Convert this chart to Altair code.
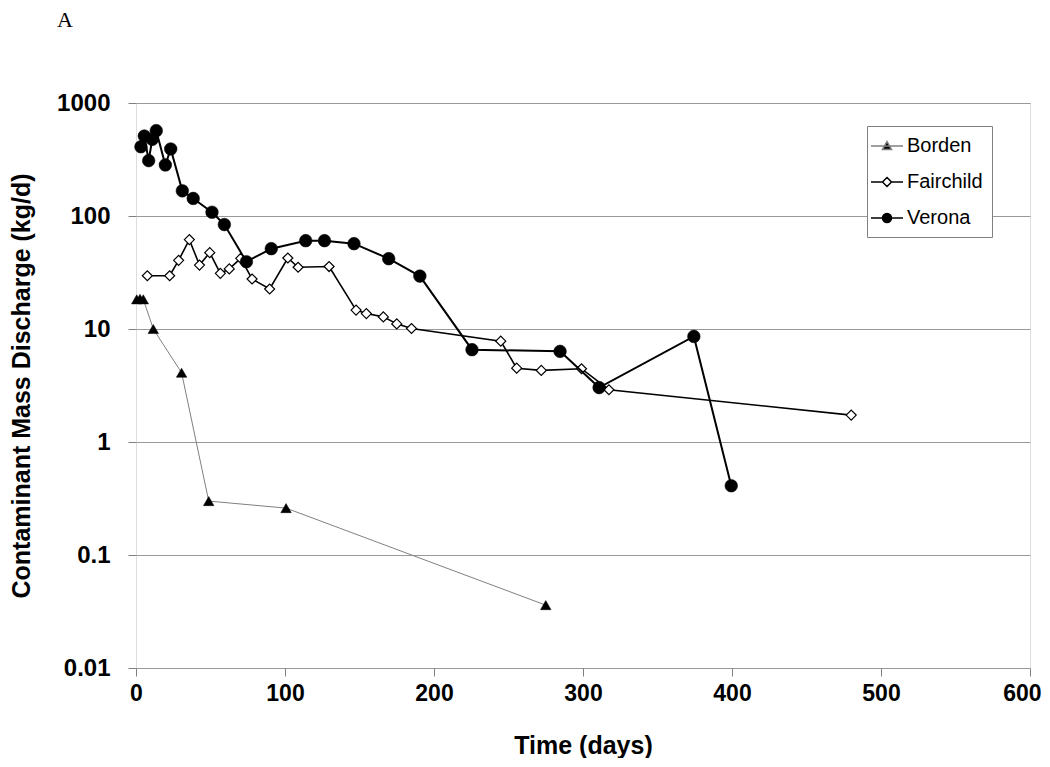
import altair as alt
import pandas as pd

series_names = ["Borden", "Fairchild", "Verona"]

borden_days = [0.5, 2.7, 4.9, 11.6, 30.6, 48.8, 100.7, 275.0]
borden_vals = [18.3, 18.5, 18.3, 10.0, 4.1, 0.30, 0.26, 0.036]

fairchild_days = [7.6, 22.6, 28.6, 35.8, 42.6, 49.5, 56.6, 62.6, 70.3, 77.9, 89.7,
                  101.9, 108.8, 129.6, 147.7, 154.6, 166.0, 175.0, 184.9, 244.8,
                  255.5, 272.0, 299.0, 317.4, 480.0]
fairchild_vals = [29.6, 29.6, 40.5, 61.8, 36.8, 47.4, 31.1, 34.0, 42.2, 27.7, 22.6,
                  42.5, 35.2, 35.7, 14.7, 13.7, 12.8, 11.1, 10.1, 7.8,
                  4.5, 4.3, 4.45, 2.9, 1.73]

verona_days = [3.3, 5.6, 8.5, 10.9, 13.6, 19.7, 23.3, 31.1, 38.4, 51.0, 59.3, 74.1,
               90.8, 113.9, 126.5, 146.3, 169.6, 190.5, 225.5, 284.6, 310.8, 374.4, 399.5]
verona_vals = [410, 510, 309, 477, 569, 283, 392, 167, 143, 108, 84, 39.4,
               51.4, 60.5, 60.5, 56.9, 41.9, 29.4, 6.56, 6.34, 3.03, 8.6, 0.41]

x_ticks = [0, 100, 200, 300, 400, 500, 600]
y_ticks = [0.01, 0.1, 1, 10, 100, 1000]

rows = []
for name, days, vals in [("Borden", borden_days, borden_vals),
                         ("Fairchild", fairchild_days, fairchild_vals),
                         ("Verona", verona_days, verona_vals)]:
    for d, v in zip(days, vals):
        rows.append({"series": name, "day": d, "value": v})
df = pd.DataFrame(rows)

FONT = "Liberation Sans"

x_enc = alt.X(
    "day:Q",
    scale=alt.Scale(domain=[0, 600], nice=False, zero=False),
    axis=alt.Axis(values=x_ticks, title="Time (days)", grid=False, domain=False,
                  tickColor="#808080", tickSize=8, labelPadding=6,
                  labelFont=FONT, labelFontSize=23, labelFontWeight="bold", labelColor="black",
                  labelAlign={"condition": {"test": "datum.value == 600", "value": "right"}, "value": "center"},
                  labelOffset={"condition": {"test": "datum.value == 600", "value": 11}, "value": 0},
                  titleFont=FONT, titleFontSize=25, titleFontWeight="bold", titleColor="black",
                  titlePadding=28, labelFlush=False),
)
y_enc = alt.Y(
    "value:Q",
    scale=alt.Scale(type="log", domain=[0.01, 1000], nice=False),
    axis=alt.Axis(values=y_ticks, format="~g", title="Contaminant Mass Discharge  (kg/d)",
                  grid=True, gridColor="#999999", gridWidth=1, domain=False,
                  tickColor="#808080", tickSize=8, labelPadding=18,
                  labelFont=FONT, labelFontSize=24, labelFontWeight="bold", labelColor="black",
                  titleFont=FONT, titleFontSize=25, titleFontWeight="bold", titleColor="black",
                  titlePadding=22, labelFlush=False),
)

base = alt.Chart(df)

def series_layers(name, line_color, line_width, shape, size, fill, stroke, sw):
    sub = base.transform_filter(alt.datum.series == name)
    line = sub.mark_line(color=line_color, strokeWidth=line_width).encode(x=x_enc, y=y_enc)
    pts = sub.mark_point(shape=shape, size=size, filled=False, fill=fill, stroke=stroke,
                         strokeWidth=sw, opacity=1, fillOpacity=1).encode(x=x_enc, y=y_enc)
    return [line, pts]

layers = []
layers += series_layers("Borden", "#808080", 1, "triangle-up", 110, "black", "black", 0.5)
layers += series_layers("Fairchild", "black", 1.6, "diamond", 100, "white", "black", 1.2)
layers += series_layers("Verona", "black", 2, "circle", 160, "black", "black", 0.5)

legend_paths = [
    "M-1.6,0H1.6M0,-0.45L0.45,0.35H-0.45Z",
    "M-1.6,0H-0.45M0.45,0H1.6M0,-0.45L0.45,0L0,0.45L-0.45,0Z",
    "M-1.6,0H1.6M0.45,0A0.45,0.45,0,1,1,-0.45,0A0.45,0.45,0,1,1,0.45,0Z",
]

leg = alt.Legend(orient="none", legendX=731, legendY=23, title=None, padding=9,
                 strokeColor="#808080", fillColor="white", symbolSize=400,
                 labelOffset=9, rowPadding=15, labelFont=FONT, labelFontSize=20,
                 labelColor="black", symbolStrokeWidth=1.5, symbolOpacity=1)

legend_layer = base.transform_filter("false").mark_point(filled=True, opacity=1).encode(
    x=x_enc, y=y_enc,
    shape=alt.Shape("series:N", scale=alt.Scale(domain=series_names, range=legend_paths), legend=leg),
    fill=alt.Fill("series:N", scale=alt.Scale(domain=series_names, range=["black", "white", "black"]), legend=leg),
    stroke=alt.Stroke("series:N", scale=alt.Scale(domain=series_names, range=["#808080", "black", "black"]), legend=leg),
)
layers.append(legend_layer)

chart = alt.layer(*layers).properties(
    width=894, height=565,
    title=alt.TitleParams("A", anchor="start", frame="group", font="Liberation Serif", fontSize=22,
                          fontWeight="normal", color="black", dx=-79, offset=59),
    autosize=alt.AutoSizeParams(type="none"),
    padding={"left": 128, "top": 95, "right": 12, "bottom": 90},
).configure_view(stroke="black", strokeWidth=1.5).configure(background="white")

chart.save("out.html", embed_options={"renderer": "svg", "actions": False})
